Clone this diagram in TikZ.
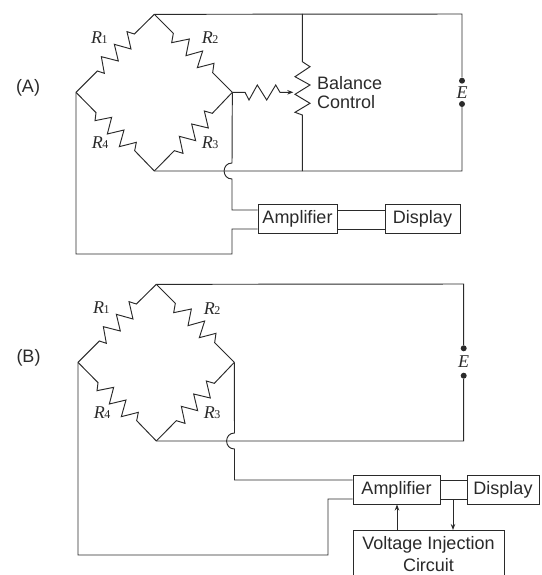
\documentclass[tikz,border=0pt]{standalone}
\usepackage{fontspec}
\setmainfont{Liberation Sans}
\newfontfamily\serifit{Liberation Serif}
\usetikzlibrary{arrows.meta}
\definecolor{ink}{HTML}{2A2A2A}
\tikzset{
  wire/.style={draw=ink,line width=0.95pt,line join=miter},
  box/.style={draw=ink,line width=0.95pt,fill=white,inner sep=0pt,font=\fontsize{18}{22}\selectfont,text=ink},
  lab/.style={inner sep=0pt,font=\fontsize{18}{22}\selectfont,text=ink},
  rlab/.style={inner sep=0pt,anchor=base west,text=ink},
  term/.style={circle,fill=ink,inner sep=0pt,minimum size=6pt},
  flow/.style={wire,-{Stealth[length=6pt,width=4.5pt]}},
  bridge/.pic={
    \begin{scope}[x=0.33333pt,y=-0.33333pt]
      \coordinate (-left) at (48,277);
      \coordinate (-top) at (283,43);
      \coordinate (-right) at (517,277);
      \coordinate (-bottom) at (283,513);
      \draw[wire] (-left) -- (112,213) -- (133,220) -- (124,170) -- (175,183) -- (163,133) -- (213,147) -- (201,95) -- (223,102) -- (-top);
      \draw[wire] (-top) -- (340,100) -- (335,128) -- (388,117) -- (378,167) -- (428,153) -- (412,203) -- (462,190) -- (458,218) -- (-right);
      \draw[wire] (-right) -- (457,340) -- (433,333) -- (445,384) -- (395,372) -- (407,422) -- (358,409) -- (369,460) -- (343,452) -- (-bottom);
      \draw[wire] (-left) -- (108,338) -- (105,362) -- (155,352) -- (142,402) -- (192,390) -- (178,440) -- (229,427) -- (224,452) -- (-bottom);
      \node[rlab] (-r1) at (93,130) {\rval{1}};
      \node[rlab] (-r2) at (425,132) {\rval{2}};
      \node[rlab] (-r3) at (425,445) {\rval{3}};
      \node[rlab] (-r4) at (95,445) {\rval{4}};
    \end{scope}
  }
}
\newcommand{\rval}[1]{{\serifit\fontsize{18}{20}\selectfont\itshape R\kern-0.5pt}{\serifit\fontsize{12}{14}\selectfont #1}}
\newcommand{\eval}{{\serifit\fontsize{18}{20}\selectfont\itshape E}}
\begin{document}
\begin{tikzpicture}[x=1pt,y=-1pt]
\useasboundingbox (0,0) rectangle (541,575);

% ---------- (A)
\node[lab,anchor=base] (tagA) at (28,93) {(A)};
\pic (A) at (60,0) {bridge};
\node[term] (Ep) at (462,80.7) {};
\node[term] (En) at (462,104) {};
\node[inner sep=0pt,text=ink] (Ea) at (462,92.7) {\eval};
\coordinate (Atr) at (462,14);
\coordinate (Abr) at (462,171);
\draw[wire] (A-top) -- (Atr) -- (Ep);
\draw[wire] (En) -- (Abr) -- (A-bottom);
\coordinate (PotT) at (302.3,14);
\coordinate (PotB) at (302.3,171);
\coordinate (PotS) at (293.3,92.3);
\draw[wire] (PotT) -- (302.3,61.7) -- (310,66.7) -- (295,76.7) -- (310,85) -- (295,94.3) -- (310,103.3) -- (295,112.3) -- (302.3,115) -- (PotB);
\draw[flow] (A-right) -- (245,92.3) -- (249,100) -- (257.3,85) -- (266.7,100) -- (275.7,85) -- (280,92.3) -- (PotS);
\node[lab,anchor=base west] (balance) at (317,89.3) {Balance};
\node[lab,anchor=base west] (control) at (317,109) {Control};
\node[box,minimum width=79pt,minimum height=29pt] (AmpA) at (297.5,218.5) {Amplifier};
\node[box,minimum width=75pt,minimum height=29pt] (DisA) at (422.5,218.5) {Display};
\draw[wire] (A-right) -- (232,163) .. controls (221.5,163) and (221.5,179) .. (232,179) -- (232,210) -- (AmpA.west |- 0,210);
\draw[wire] (A-left) -- (76,254) -- (232,254) -- (232,229) -- (AmpA.west |- 0,229);
\draw[wire] (AmpA.east |- 0,210) -- (DisA.west |- 0,210);
\draw[wire] (AmpA.east |- 0,229) -- (DisA.west |- 0,229);

% ---------- (B)
\node[lab,anchor=base] (tagB) at (28.5,362) {(B)};
\pic (B) at (62,270) {bridge};
\node[term] (Fp) at (463.7,348.3) {};
\node[term] (Fn) at (463.7,375.7) {};
\node[inner sep=0pt,text=ink] (Eb) at (463.7,361.7) {\eval};
\coordinate (Btr) at (463.7,284);
\coordinate (Bbr) at (463.7,441);
\draw[wire] (B-top) -- (Btr) -- (Fp);
\draw[wire] (Fn) -- (Bbr) -- (B-bottom);
\node[box,minimum width=87pt,minimum height=29pt] (AmpB) at (396.5,489.5) {Amplifier};
\node[box,minimum width=72pt,minimum height=29pt] (DisB) at (503,489.5) {Display};
\node[box,minimum width=151pt,minimum height=60pt,anchor=north] (Vic) at (428.5,530) {};
\node[lab,anchor=base] (VicA) at (428.5,549) {Voltage Injection};
\node[lab,anchor=base] (VicB) at (428.5,571) {Circuit};
\draw[wire] (B-right) -- (234.5,433) .. controls (224,433) and (224,449) .. (234.5,449) -- (234.5,480) -- (AmpB.west |- 0,480);
\draw[wire] (B-left) -- (78,555) -- (328,555) -- (328,499) -- (AmpB.west |- 0,499);
\draw[wire] (AmpB.east |- 0,480) -- (DisB.west |- 0,480);
\draw[wire] (AmpB.east |- 0,499) -- (DisB.west |- 0,499);
\draw[flow] (397,530) -- (AmpB.south -| 397,0);
\draw[flow] (453,499) -- (Vic.north -| 453,0);
\end{tikzpicture}
\end{document}
